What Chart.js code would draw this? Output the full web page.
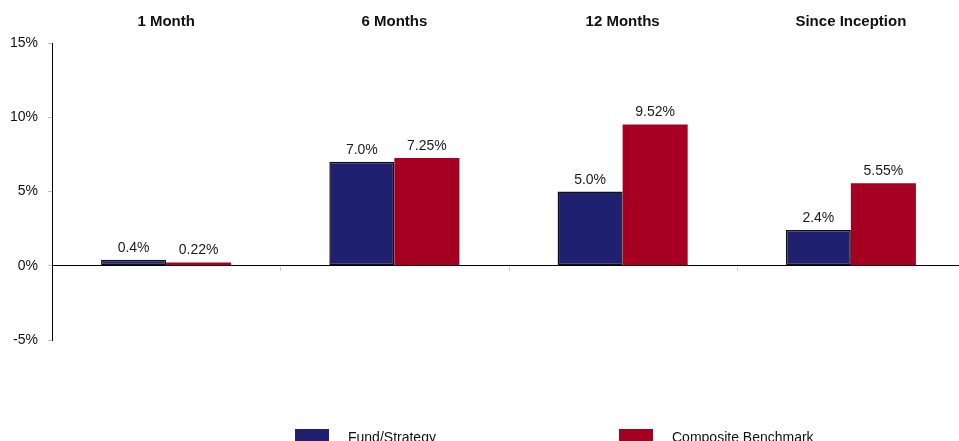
<!DOCTYPE html>
<html>
<head>
<meta charset="utf-8">
<script src="https://cdn.jsdelivr.net/npm/chart.js@4"></script>
<style>
html, body { margin: 0; padding: 0; background: #fff; overflow: hidden; }
#wrap { position: relative; width: 966px; height: 441px; }
</style>
</head>
<body>
<div id="wrap"><canvas id="grafico"></canvas></div>
<script>
const periodos = ['1 Month', '6 Months', '12 Months', 'Since Inception'];
const fondo = [0.4, 7.0, 5.0, 2.4];
const benchmark = [0.22, 7.25, 9.52, 5.55];
const ticksY = [-5, 0, 5, 10, 15];
const series = ['Fund/Strategy', 'Composite Benchmark'];
const decimales = [1, 2];

const fuente = '"Liberation Sans", Arial, sans-serif';

// etiquetas encima de cada barra
const etiquetasBarras = {
    id: 'etiquetasBarras',
    afterDatasetsDraw(chart) {
        const ctx = chart.ctx;
        ctx.save();
        ctx.font = '14px ' + fuente;
        ctx.fillStyle = '#1a1a1a';
        ctx.textAlign = 'center';
        ctx.textBaseline = 'alphabetic';
        chart.data.datasets.forEach((ds, i) => {
            chart.getDatasetMeta(i).data.forEach((bar, j) => {
                const tope = Math.min(bar.y, bar.base);
                ctx.fillText(ds.data[j].toFixed(decimales[i]) + '%', bar.x, tope - 8);
            });
        });
        ctx.restore();
    }
};

// marcas pequeñas entre categorias sobre la linea del cero
const marcasCategoria = {
    id: 'marcasCategoria',
    afterDraw(chart) {
        const ctx = chart.ctx;
        const x = chart.scales.x;
        const y0 = chart.scales.y.getPixelForValue(0);
        ctx.save();
        ctx.strokeStyle = '#c8c8c8';
        ctx.lineWidth = 1;
        for (let i = 1; i < periodos.length; i++) {
            const px = Math.round((x.getPixelForValue(i - 1) + x.getPixelForValue(i)) / 2) + 0.5;
            ctx.beginPath();
            ctx.moveTo(px, y0 + 1);
            ctx.lineTo(px, y0 + 5);
            ctx.stroke();
        }
        ctx.restore();
    }
};

// leyenda abajo
const leyenda = {
    id: 'leyenda',
    afterDraw(chart) {
        const ctx = chart.ctx;
        ctx.save();
        ctx.font = '14px ' + fuente;
        ctx.textBaseline = 'alphabetic';
        ctx.textAlign = 'left';
        chart.data.datasets.forEach((ds, i) => {
            const x0 = 295 + i * 324;
            ctx.fillStyle = ds.backgroundColor;
            ctx.fillRect(x0, 429, 34, 14);
            ctx.fillStyle = '#111';
            ctx.fillText(ds.label, x0 + 53, 442);
        });
        ctx.restore();
    }
};

const datasets = [
    {
        label: series[0],
        data: fondo,
        backgroundColor: '#1F2070',
        borderColor: '#111',
        borderWidth: 1.5,
        borderSkipped: false
    },
    {
        label: series[1],
        data: benchmark,
        backgroundColor: '#A50021',
        borderWidth: 0
    }
];

new Chart(document.getElementById('grafico'), {
    type: 'bar',
    data: { labels: periodos, datasets },
    options: {
        responsive: true,
        maintainAspectRatio: false,
        animation: false,
        layout: { padding: { top: 0, right: 1, bottom: 101, left: 0 } },
        datasets: { bar: { categoryPercentage: 0.57, barPercentage: 1.0 } },
        plugins: { legend: { display: false }, tooltip: { enabled: false } },
        scales: {
            x: {
                position: 'top',
                grid: { display: false, drawTicks: false },
                border: { display: false },
                ticks: { font: { family: fuente, size: 15, weight: 'bold' }, color: '#111', padding: 12 },
                afterFit(s) { s.height = 43; }
            },
            y: {
                min: -5,
                max: 15,
                afterBuildTicks(s) { s.ticks = ticksY.map(v => ({ value: v })); },
                afterFit(s) { s.width = 52; },
                grid: {
                    color: c => (c.tick && c.tick.value === 0) ? '#000' : 'rgba(0,0,0,0)',
                    tickColor: '#bdbdbd',
                    tickLength: 4,
                    lineWidth: 1
                },
                border: { color: '#000', width: 1 },
                ticks: { callback: v => v + '%', font: { family: fuente, size: 14 }, color: '#111', padding: 10 }
            }
        }
    },
    plugins: [etiquetasBarras, marcasCategoria, leyenda]
});
</script>
</body>
</html>
